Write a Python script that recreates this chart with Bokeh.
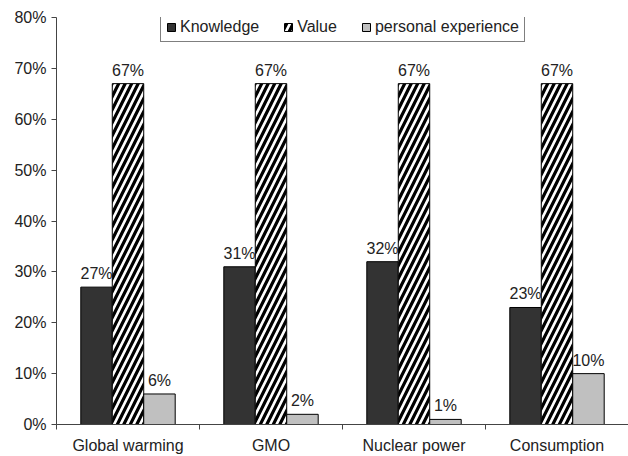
from bokeh.plotting import figure
from bokeh.models import (ColumnDataSource, Range1d, FixedTicker, PrintfTickFormatter,
                          Legend, LegendItem)
from bokeh.core.properties import value
from bokeh.embed import file_html
from bokeh.resources import INLINE

categories = ["Global warming", "GMO", "Nuclear power", "Consumption"]
knowledge = [27, 31, 32, 23]
value_ = [67, 67, 67, 67]
personal = [6, 2, 1, 10]
series_names = ["Knowledge", "Value", "personal experience"]
y_ticks = [0, 10, 20, 30, 40, 50, 60, 70, 80]

FONT = "Liberation Sans"
TEXT_COLOR = "#222222"
BAR_W = 0.22
centers = [i + 0.5 for i in range(len(categories))]

p = figure(width=628, height=456, output_backend="svg", toolbar_location=None,
           x_range=Range1d(0, 4), y_range=Range1d(0, 80),
           min_border_left=56, min_border_right=0, min_border_top=17, min_border_bottom=31)
p.outline_line_color = None
p.xgrid.visible = False
p.ygrid.visible = False
p.background_fill_color = "white"

def make_src(vals, offset):
    return ColumnDataSource(dict(
        x=[c + offset for c in centers],
        top=vals,
        label=[f"{v}%" for v in vals],
    ))

src_k = make_src(knowledge, -BAR_W)
src_v = make_src(value_, 0.0)
src_p = make_src(personal, BAR_W)

r_k = p.vbar(x="x", top="top", width=BAR_W, source=src_k,
             fill_color="#333333", line_color="black", line_width=1)
r_v = p.vbar(x="x", top="top", width=BAR_W, source=src_v,
             fill_color="white", line_color="black", line_width=1,
             hatch_pattern="/", hatch_color="black", hatch_weight=3.2, hatch_scale=13)
r_p = p.vbar(x="x", top="top", width=BAR_W, source=src_p,
             fill_color="#c0c0c0", line_color="black", line_width=1)

for src in (src_k, src_v, src_p):
    p.text(x="x", y="top", text="label", source=src, text_align="center",
           text_baseline="bottom", y_offset=-5, text_font_size="16px",
           text_color=TEXT_COLOR, text_font=value(FONT))

# y axis
p.yaxis.ticker = FixedTicker(ticks=y_ticks)
p.yaxis.formatter = PrintfTickFormatter(format="%d%%")
p.yaxis.major_tick_in = 0
p.yaxis.major_tick_out = 5
p.yaxis.minor_tick_line_color = None
p.yaxis.major_label_text_font = FONT
p.yaxis.major_label_text_font_size = "16px"
p.yaxis.major_label_text_color = TEXT_COLOR
p.yaxis.major_label_standoff = 5
p.yaxis.axis_line_color = "#444444"
p.yaxis.major_tick_line_color = "#444444"

# x axis: labels at group centers, ticks at group boundaries
p.xaxis.ticker = FixedTicker(ticks=centers, minor_ticks=[0, 1, 2, 3, 4])
p.xaxis.major_label_overrides = {c: name for c, name in zip(centers, categories)}
p.xaxis.major_tick_line_color = None
p.xaxis.minor_tick_in = 0
p.xaxis.minor_tick_out = 5
p.xaxis.minor_tick_line_color = "#444444"
p.xaxis.axis_line_color = "#444444"
p.xaxis.major_label_text_font = FONT
p.xaxis.major_label_text_font_size = "16px"
p.xaxis.major_label_text_color = TEXT_COLOR
p.xaxis.major_label_standoff = 6

legend = Legend(items=[LegendItem(label=n, renderers=[r]) for n, r in
                       zip(series_names, [r_k, r_v, r_p])],
                orientation="horizontal", location=(104, 382),
                border_line_color="black", border_line_width=1.5,
                background_fill_color="white", background_fill_alpha=1,
                label_text_font=FONT, label_text_font_size="16px",
                label_text_color=TEXT_COLOR,
                glyph_width=10, glyph_height=10, spacing=24,
                padding=5, margin=0, label_standoff=4,
                label_height=16)
p.add_layout(legend, "center")

open("out.html", "w").write(file_html(p, INLINE))
